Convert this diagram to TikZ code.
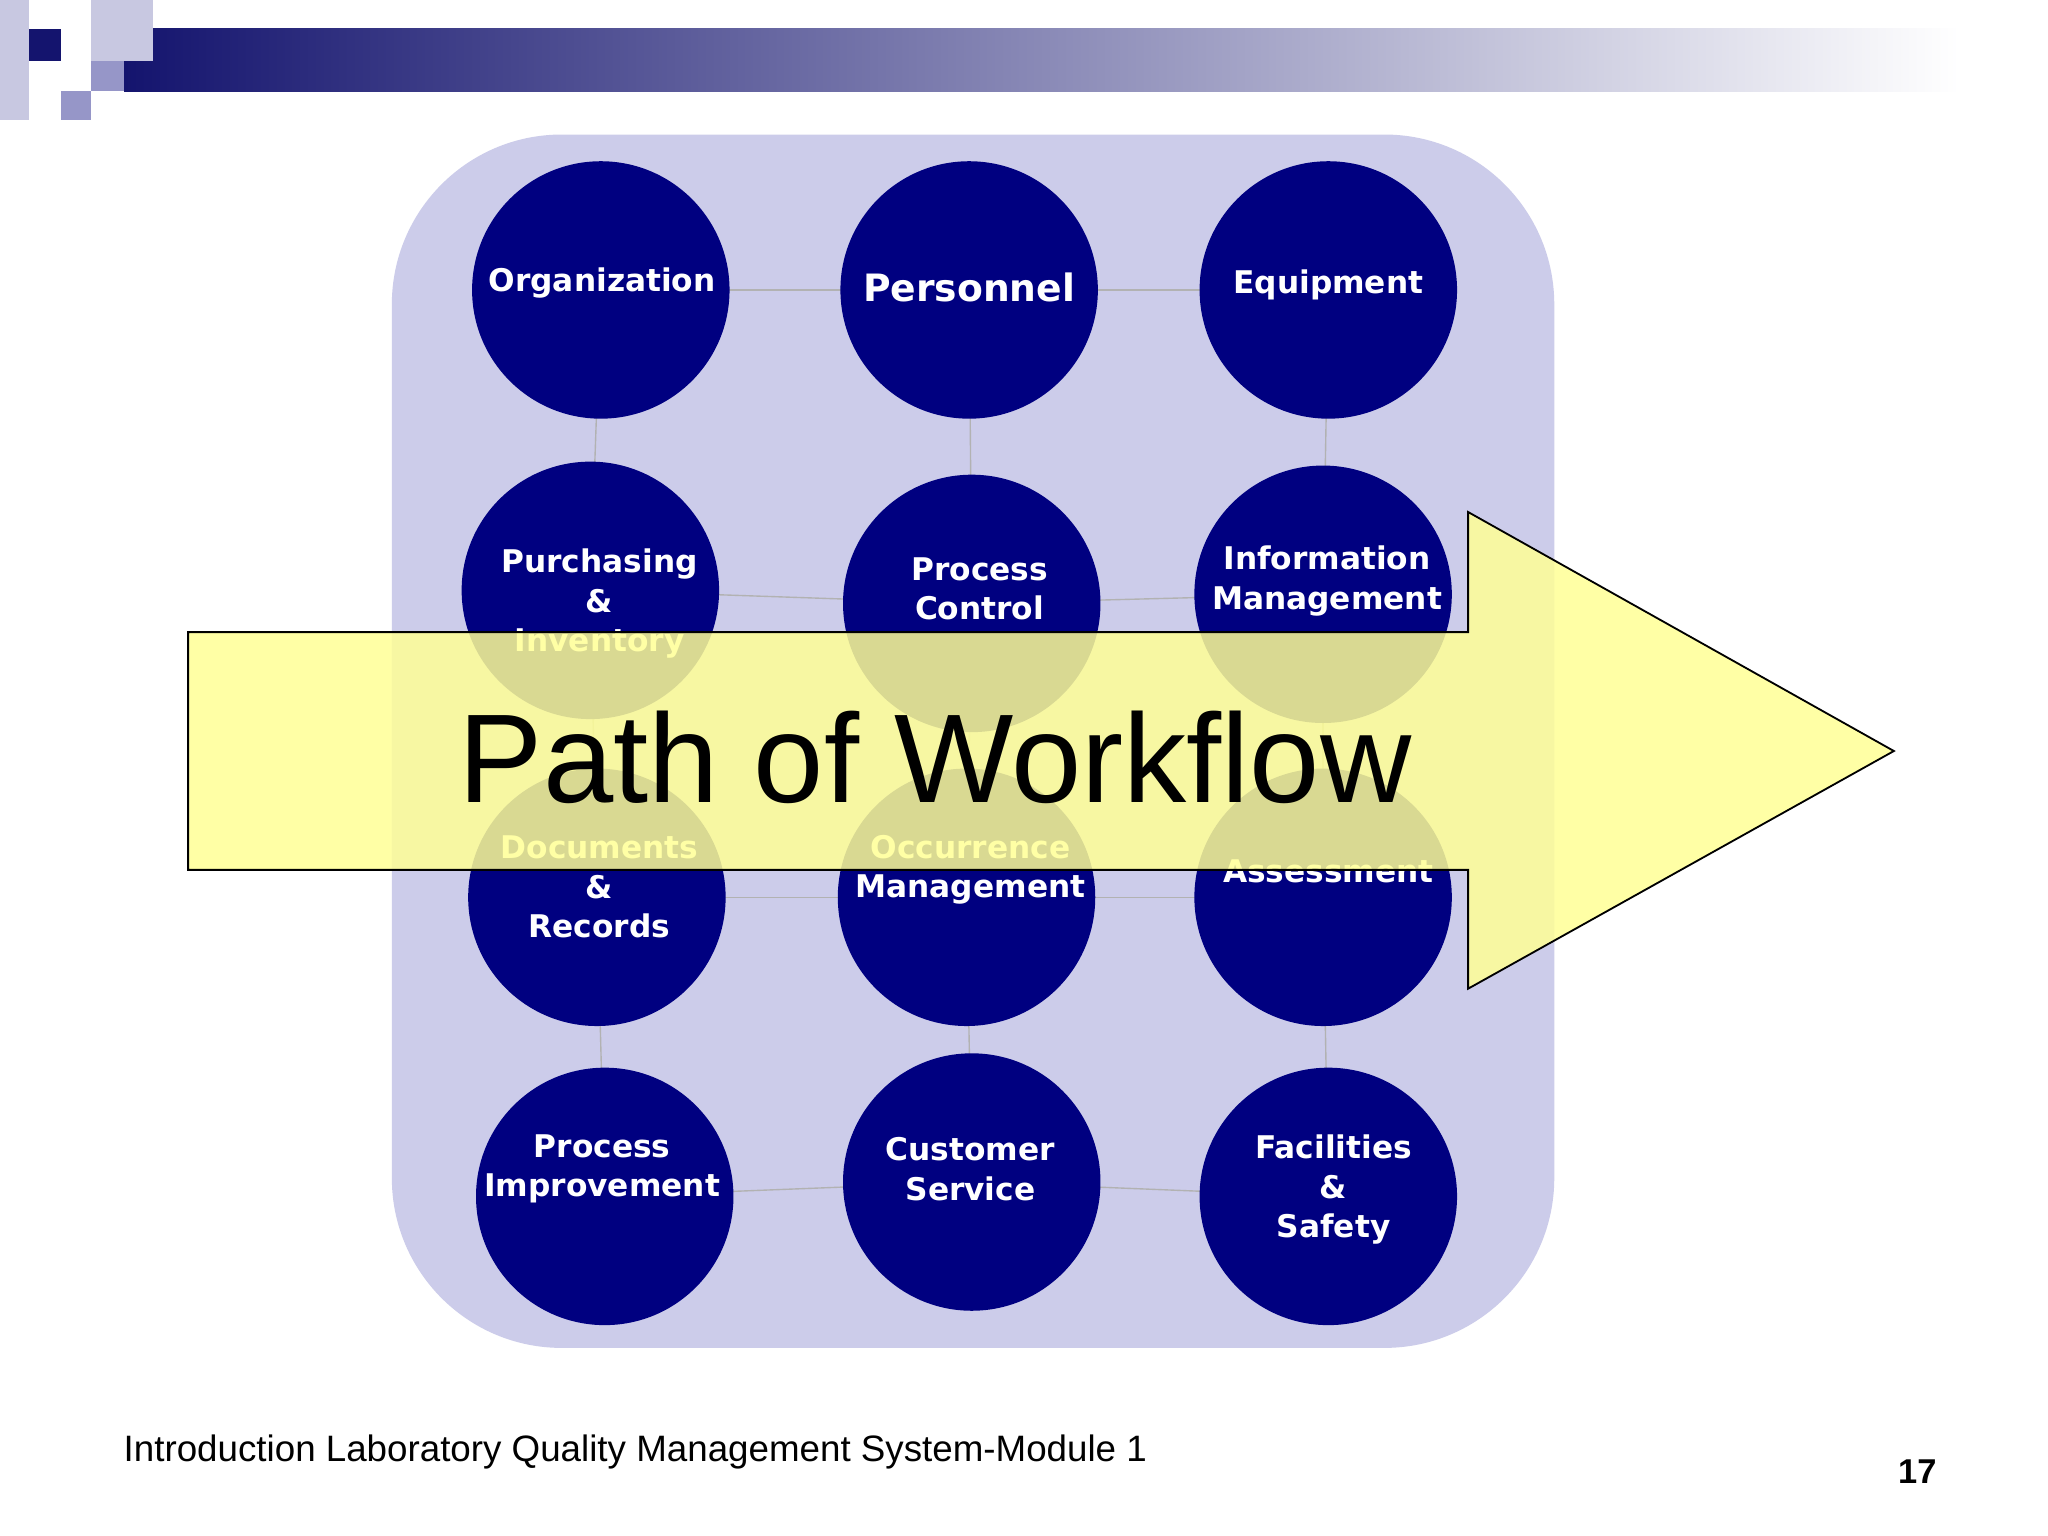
\documentclass[tikz,border=0pt]{standalone}
\usepackage{fontspec}
\setmainfont{Liberation Sans}
\newfontfamily\vfont{DejaVu Sans}
\definecolor{navy}{RGB}{0,0,128}
\definecolor{hdr}{RGB}{20,20,110}
\definecolor{sqa}{RGB}{200,200,225}
\definecolor{sqb}{RGB}{150,150,200}
\definecolor{panel}{RGB}{204,204,234}
\definecolor{arrowy}{RGB}{255,255,150}
\begin{document}
\begin{tikzpicture}[x=0.01cm,y=-0.01cm,
  circ/.style={circle,fill=navy,minimum size=1.97cm,inner sep=0},
  lab/.style={text=white,font=\vfont\bfseries\fontsize{6.8}{8.6}\selectfont,align=center},
  grid/.style={draw=gray!60,line width=0.3pt}]
\useasboundingbox (0,0) rectangle (1568,1176);
\fill[white] (0,0) rectangle (1568,1176);
% header
\shade[left color=hdr,right color=white] (95,22) rectangle (1500,70);
\fill[sqa] (0,0) rectangle (22,92);
\fill[sqa] (70,0) rectangle (117,47);
\fill[sqb] (47,70) rectangle (70,92);
\fill[sqb] (70,47) rectangle (95,70);
\fill[hdr] (22,22) rectangle (47,47);
% panel
\fill[panel,rounded corners=1.3cm] (300,103) rectangle (1190,1032);
% circle anchors
\foreach \n/\x/\y in {a1/460/222,a2/742/222,a3/1017/222,b1/452/452,b2/744/462,b3/1013/455,c1/457/687,c2/740/687,c3/1013/687,d1/463/916,d2/744/905,d3/1017/916}
  \coordinate (\n) at (\x,\y);
\foreach \p/\q in {a1/a2,a2/a3,b1/b2,b2/b3,c1/c2,c2/c3,d1/d2,d2/d3,a1/b1,b1/c1,c1/d1,a2/b2,b2/c2,c2/d2,a3/b3,b3/c3,c3/d3}
  \draw[grid] (\p) -- (\q);
\foreach \n in {a1,a2,a3,b1,b2,b3,c1,c2,c3,d1,d2,d3}
  \node[circ] (c\n) at (\n) {};
% labels
\node[lab] at (461,217) {Organization};
\node[lab,font=\vfont\bfseries\fontsize{8.2}{10}\selectfont] at (742,220) {Personnel};
\node[lab] at (1017,218) {Equipment};
\node[lab,anchor=north] at (459,408) {Purchasing\\\&\\Inventory};
\node[lab] at (750,451) {Process\\Control};
\node[lab] at (1016,445) {Information\\Management};
\node[lab] at (459,679) {Documents\\\&\\Records};
\node[lab] at (743,666) {Occurrence\\Management};
\node[lab] at (1017,667) {Assessment};
\node[lab] at (461,895) {Process\\Improvement};
\node[lab] at (743,895) {Customer\\Service};
\node[lab] at (1021,911) {Facilities\\\&\\Safety};
% arrow
\path[fill=arrowy,fill opacity=0.85,draw=black,line width=0.4pt]
  (144,484) -- (1124,484) -- (1124,392) -- (1450,575) -- (1124,757) -- (1124,666) -- (144,666) -- cycle;
\node[font=\fontsize{27.5}{30}\selectfont] (pw) at (716,580) {Path of Workflow};
% footer
\node[anchor=west,inner sep=0,font=\fontsize{8}{10}\selectfont] (ft) at (94,1112) {Introduction Laboratory Quality Management System-Module 1};
\node[font=\bfseries\fontsize{7.5}{9}\selectfont] (pg) at (1468,1127) {17};
\end{tikzpicture}
\end{document}
